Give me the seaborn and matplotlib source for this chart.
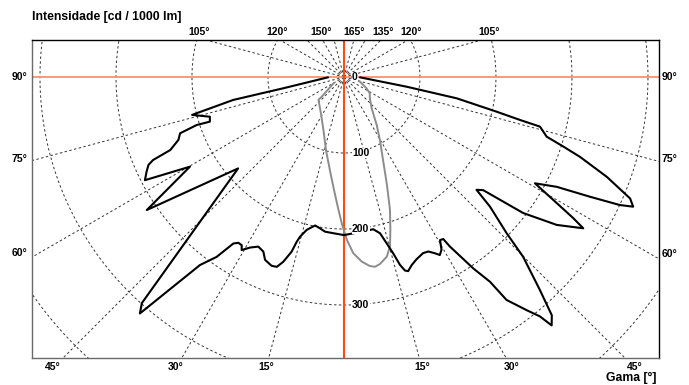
import numpy as np
import pandas as pd
import matplotlib
matplotlib.use("Agg")
import matplotlib.pyplot as plt
import matplotlib.transforms as mtransforms
import seaborn as sns

# black curve, left half (gamma in deg from nadir, intensity cd/1000lm), traced from 90 down to 0
left_gamma = [88.9, 79.5, 78.3, 76.0, 73.5, 71.6, 71.95, 71.05, 69.2, 67.2, 66.5, 65.8, 64.4,
              62.6, 59.8, 56.0, 49.2, 41.8, 40.8, 37.45, 35.3, 33.6, 32.5, 31.3, 30.6, 28.8,
              26.8, 24.8, 23.35, 21.0, 19.5, 18.2, 16.7, 16.0, 15.4, 13.7, 11.0, 9.0, 7.0, 3.9, 0.0]
left_int = [21, 81, 149, 206, 184, 186, 204, 228, 233, 248, 274, 282, 288,
            295, 234.5, 313, 184, 399, 411, 311.6, 290, 263, 258.6, 259, 264.5, 256,
            250, 253, 262, 266, 265, 256, 240, 225.5, 218, 207, 199, 201.6, 205, 206, 208]

# black curve, right half, traced from 0 up to 90
right_gamma = [0.0, 3.4, 10.9, 13.0, 14.4, 15.6, 16.6, 17.5, 18.3, 19.8, 21.75, 24.2, 25.8,
               27.3, 28.3, 29.45, 30.5, 31.5, 32.0, 34.05, 35.5, 36.1, 38.1, 39.3, 39.9, 41.1,
               42.6, 44.9, 46.15, 48.4, 49.6, 50.9, 52.8, 55.2, 57.7, 58.4, 59.8, 60.9, 62.7,
               64.05, 65.1, 65.85, 67.0, 69.2, 71.3, 72.4, 73.6, 75.8, 76.3, 77.2, 79.3, 81.2, 88.9]
right_int = [208, 206, 204, 211, 226, 241, 258, 267, 269, 263, 258, 254, 255,
             261, 266, 261, 249, 250, 263, 304, 331, 363, 390, 407, 426, 416,
             381, 334, 297, 257, 229, 236, 296, 341, 372.5, 354, 313.5, 287.6, 315,
             360, 400, 417, 409, 370, 328, 303, 278, 266, 238, 206, 151, 83.5, 21]

# gray curve (second plane), negative gamma = left side
gray_gamma = [-60, -48.5, -48.2, -31.2, -21.1, -13.85, -8.6, -5.06, -2.6, -0.8, 1.05, 3.0, 5.5,
              7.8, 9.3, 10.9, 13.4, 15.2, 16.9, 19.1, 21.7, 25.2, 29.7, 34.3, 41.5, 50.7,
              57.9, 63.5, 73.6, 85]
gray_int = [15, 39, 45, 58, 75, 99, 124, 149, 172.5, 193.4, 214.5, 232, 244,
            251, 253, 250.5, 243, 231, 210, 185, 153, 120.7, 95.5, 76.4, 55, 44,
            40, 33, 22, 10]

rings = [100, 200, 300, 400, 500]
ring_labels = ["0", "100", "200", "300"]
top_left_labels = [105, 120, 150]
top_right_labels = [165, 135, 120, 105]
bottom_labels = [15, 30, 45]
side_labels = [60, 75, 90]


def to_xy(gamma, inten, side=1.0):
    g = np.radians(np.asarray(gamma, dtype=float))
    i = np.asarray(inten, dtype=float)
    return side * i * np.sin(g), -i * np.cos(g)


sns.set_style("white")
plt.rcParams['font.family'] = ['Liberation Sans', 'DejaVu Sans']
plt.rcParams['text.color'] = 'black'

fig = plt.figure(figsize=(6.89, 3.85), dpi=100)
ax = fig.add_axes([32 / 689, 27 / 385, 627 / 689, 318 / 385])

x0, x1 = -410.5, 414.5
y0, y1 = -369.7, 48.7
ax.set_xlim(x0, x1)
ax.set_ylim(y0, y1)

# dashed polar grid
t = np.linspace(0, 2 * np.pi, 721)
dash = (0, (2.5, 2.5))
for r in rings:
    ax.plot(r * np.cos(t), r * np.sin(t), color="#333333", lw=0.7, ls=dash, zorder=1)
for g in range(15, 180, 15):
    if g == 90:
        continue
    for side in (-1, 1):
        gx, gy = to_xy([0, g], [0, 700], side)
        ax.plot(gx, gy, color="#333333", lw=0.7, ls=dash, zorder=1)

# axis cross
ax.axhline(0, color="#ff9266", lw=1.3, zorder=2)
ax.axvline(0, color="#ff4a12", lw=1.5, zorder=2)

# curves
lx, ly = to_xy(left_gamma, left_int, -1)
rx, ry = to_xy(right_gamma, right_int, 1)
black = pd.DataFrame({"x": np.concatenate([lx, rx]), "y": np.concatenate([ly, ry])})
gg = np.asarray(gray_gamma, dtype=float)
gx_, gy_ = to_xy(np.abs(gg), gray_int, 1)
gray = pd.DataFrame({"x": np.sign(gg) * gx_, "y": gy_})

sns.lineplot(data=gray, x="x", y="y", sort=False, estimator=None, color="#8c8c8c", lw=1.4, ax=ax, zorder=3)
sns.lineplot(data=black, x="x", y="y", sort=False, estimator=None, color="black", lw=1.5, ax=ax, zorder=4)

# intensity labels
for lab in ring_labels:
    ax.text(10.5, -float(lab), lab, ha="left", va="center", fontsize=7.5, fontweight="bold",
            zorder=6, bbox=dict(facecolor="white", edgecolor="none", pad=0.3))

ax.set_xticks([])
ax.set_yticks([])
ax.set_xlabel("")
ax.set_ylabel("")
for s in ["top", "right"]:
    ax.spines[s].set_color("black")
for s in ["left", "bottom"]:
    ax.spines[s].set_color("#6a6a6a")
for s in ax.spines.values():
    s.set_linewidth(1.0)

# angle labels round the frame
kw = dict(fontsize=7.5, fontweight="bold", clip_on=False)
off = lambda dx, dy: mtransforms.offset_copy(ax.transData, fig=fig, x=dx, y=dy, units="points")
for g in top_left_labels:
    x = -y1 * np.tan(np.radians(180 - g)) * 1.05
    ax.text(x, y1, f"{g}°", ha="center", va="bottom", transform=off(0, 2.5), **kw)
for g in top_right_labels:
    x = y1 * np.tan(np.radians(180 - g)) * 1.05
    ax.text(x, y1, f"{g}°", ha="center", va="bottom", transform=off(0, 2.5), **kw)
for g in bottom_labels:
    for side, edge in ((-1, x0), (1, x1)):
        x = min(-y0 * np.tan(np.radians(g)), abs(edge)) * 1.035 * side
        ax.text(x, y0, f"{g}°", ha="center", va="top", transform=off(0, -3), **kw)
for g in side_labels:
    yl = -abs(x0) / np.tan(np.radians(g)) * 0.975
    yr = -abs(x1) / np.tan(np.radians(g)) * 0.975
    ax.text(x0, yl, f"{g}°", ha="right", va="center", transform=off(-3, 0), **kw)
    ax.text(x1, yr, f"{g}°", ha="left", va="center", transform=off(2, 0), **kw)

fig.text(32 / 689, 1 - 17 / 385, "Intensidade [cd / 1000 lm]", ha="left", va="center",
         fontsize=8.8, fontweight="bold")
fig.text(657 / 689, 1 - 378 / 385, "Gama [°]", ha="right", va="center",
         fontsize=8.8, fontweight="bold")

fig.savefig("out.png", dpi=100, facecolor="white")
